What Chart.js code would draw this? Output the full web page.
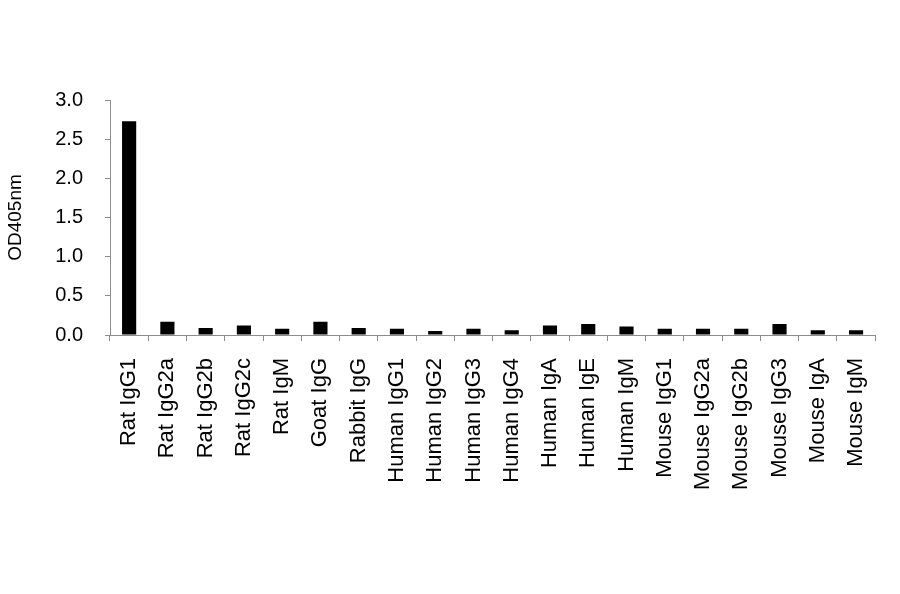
<!DOCTYPE html>
<html>
<head>
<meta charset="utf-8">
<script src="https://cdn.jsdelivr.net/npm/chart.js@4.4.1/dist/chart.umd.min.js"></script>
<style>
  html, body { margin: 0; padding: 0; background: #fff; }
  #wrap { width: 900px; height: 594px; position: relative; }
</style>
</head>
<body>
<div id="wrap"><canvas id="c" width="900" height="594"></canvas></div>
<script>
const categories = ["Rat IgG1","Rat IgG2a","Rat IgG2b","Rat IgG2c","Rat IgM","Goat IgG","Rabbit IgG","Human IgG1","Human IgG2","Human IgG3","Human IgG4","Human IgA","Human IgE","Human IgM","Mouse IgG1","Mouse IgG2a","Mouse IgG2b","Mouse IgG3","Mouse IgA","Mouse IgM"];
const odValues = [2.73,0.17,0.09,0.12,0.08,0.17,0.09,0.08,0.05,0.08,0.06,0.12,0.14,0.11,0.08,0.08,0.08,0.14,0.06,0.06];
const yTicks = [0,0.5,1.0,1.5,2.0,2.5,3.0];
const yTitle = "OD405nm";

const FONT = "'Liberation Sans', Arial, sans-serif";
const AXIS = "#8c8c8c";

new Chart(document.getElementById('c'), {
  type: 'bar',
  data: {
    labels: categories,
    datasets: [{
      data: odValues,
      backgroundColor: '#000',
      borderWidth: 0,
      barPercentage: 0.37,
      categoryPercentage: 1.0
    }]
  },
  options: {
    responsive: false,
    animation: false,
    devicePixelRatio: 1,
    layout: { padding: { left: 0, right: 22, top: 100, bottom: 0 } },
    plugins: { legend: { display: false }, tooltip: { enabled: false } },
    scales: {
      x: {
        grid: { display: true, drawOnChartArea: false, offset: true, color: AXIS, tickLength: 6, lineWidth: 1 },
        border: { display: true, color: AXIS, width: 1 },
        ticks: {
          color: '#000', font: { family: FONT, size: 22 },
          minRotation: 90, maxRotation: 90, autoSkip: false, padding: 17
        },
        afterFit: s => { s.height = 594 - 335; }
      },
      y: {
        min: 0, max: 3,
        afterBuildTicks: s => { s.ticks = yTicks.map(v => ({ value: v })); },
        grid: { display: true, drawOnChartArea: false, color: AXIS, tickLength: 5, lineWidth: 1 },
        border: { display: true, color: AXIS, width: 1 },
        ticks: {
          color: '#000', font: { family: FONT, size: 20 }, padding: 22,
          callback: v => Number(v).toFixed(1)
        },
        title: { display: true, text: yTitle, color: '#000', font: { family: FONT, size: 19 }, padding: { top: 4, bottom: 0 } },
        afterFit: s => { s.width = 110; }
      }
    }
  }
});
</script>
</body>
</html>
